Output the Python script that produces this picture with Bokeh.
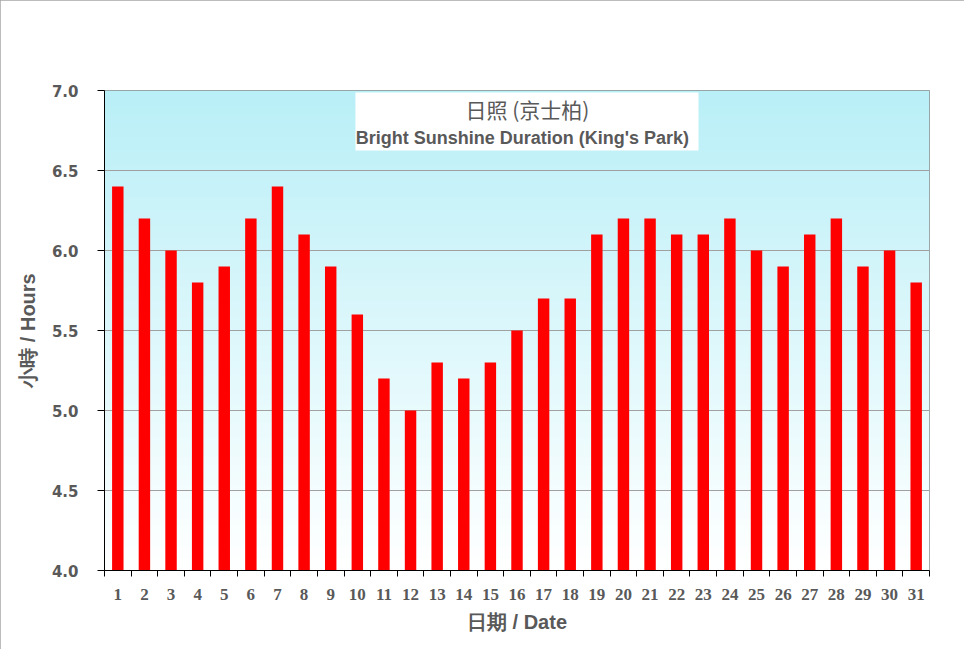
import numpy as np
from bokeh.embed import file_html
from bokeh.models import BoxAnnotation, FixedTicker, Label, NumeralTickFormatter, Range1d
from bokeh.plotting import figure
from bokeh.resources import INLINE

days = list(range(1, 32))
hours = [6.4, 6.2, 6.0, 5.8, 5.9, 6.2, 6.4, 6.1, 5.9, 5.6,
         5.2, 5.0, 5.3, 5.2, 5.3, 5.5, 5.7, 5.7, 6.1, 6.2,
         6.2, 6.1, 6.1, 6.2, 6.0, 5.9, 6.1, 6.2, 5.9, 6.0, 5.8]
y_ticks = [4.0, 4.5, 5.0, 5.5, 6.0, 6.5, 7.0]

title_zh = '日照 (京士柏)'
title_en = "Bright Sunshine  Duration  (King's Park)"
x_title = '日期 / Date'
y_title = '小時 / Hours'

grey = '#595959'

p = figure(
    frame_width=825, frame_height=480,
    min_border_left=104, min_border_right=35,
    min_border_top=90, min_border_bottom=79,
    x_range=Range1d(0.5, 31.5), y_range=Range1d(4.0, 7.0),
    output_backend='svg', toolbar_location=None)

p.outline_line_color = '#8c8c8c'
p.background_fill_color = 'white'
p.border_fill_color = 'white'
p.styles = {'outline': '1px solid #a6a6a6', 'outline-offset': '-1px'}

# vertical gradient, light cyan at the top fading to white
n = 240
t = np.linspace(0, 1, n)
top = np.array([185, 239, 247])
rgba = np.zeros((n, 1, 4), dtype=np.uint8)
for i in range(3):
    rgba[:, 0, i] = np.round(255 + (top[i] - 255) * t).astype(np.uint8)
rgba[:, 0, 3] = 255
img = rgba.view(dtype=np.uint32).reshape((n, 1))
p.image_rgba(image=[img], x=0.5, y=4.0, dw=31, dh=3, level='image')

p.vbar(x=days, top=hours, bottom=4.0, width=0.43,
       fill_color='#ff0000', line_color=None)

p.xgrid.grid_line_color = None
p.ygrid.grid_line_color = '#a0a0a0'
p.ygrid.ticker = FixedTicker(ticks=y_ticks)

# x axis: tick marks between days, labels under each day
p.xaxis.ticker = FixedTicker(ticks=days, minor_ticks=[d - 0.5 for d in days] + [31.5])
p.xaxis.major_tick_line_color = None
p.xaxis.minor_tick_line_color = 'black'
p.xaxis.minor_tick_in = 0
p.xaxis.minor_tick_out = 6
p.xaxis.axis_line_color = 'black'
p.xaxis.major_label_standoff = 12
p.xaxis.major_label_text_font = 'Liberation Serif'
p.xaxis.major_label_text_font_style = 'bold'
p.xaxis.major_label_text_font_size = '17px'
p.xaxis.major_label_text_color = grey
p.xaxis.axis_label = x_title
p.xaxis.axis_label_standoff = 8
p.xaxis.axis_label_text_font = 'Liberation Sans'
p.xaxis.axis_label_text_font_style = 'bold'
p.xaxis.axis_label_text_font_size = '20px'
p.xaxis.axis_label_text_color = grey

p.yaxis.ticker = FixedTicker(ticks=y_ticks)
p.yaxis.formatter = NumeralTickFormatter(format='0.0')
p.yaxis.minor_tick_line_color = None
p.yaxis.major_tick_in = 0
p.yaxis.major_tick_out = 7
p.yaxis.axis_line_color = 'black'
p.yaxis.major_label_standoff = 19
p.yaxis.major_label_text_font = 'DejaVu Sans'
p.yaxis.major_label_text_font_style = 'bold'
p.yaxis.major_label_text_font_size = '15px'
p.yaxis.major_label_text_color = grey
p.yaxis.axis_label = y_title
p.yaxis.axis_label_standoff = 10
p.yaxis.axis_label_text_font = 'Liberation Sans'
p.yaxis.axis_label_text_font_style = 'bold'
p.yaxis.axis_label_text_font_size = '20px'
p.yaxis.axis_label_text_color = grey

# title box inside the plot
box = BoxAnnotation(left=9.93, right=22.82, bottom=6.625, top=6.9875,
                    fill_color='white', fill_alpha=1.0, line_color=None)
p.add_layout(box)
p.add_layout(Label(x=16.39, y=6.8875, text=title_zh, text_align='center',
                   text_baseline='middle', text_font='Noto Sans CJK TC',
                   text_font_size='21px', text_color=grey))
p.add_layout(Label(x=16.39, y=6.706, text=title_en, text_align='center',
                   text_baseline='middle', text_font='Liberation Sans',
                   text_font_style='bold', text_font_size='18px', text_color=grey))

open('out.html', 'w').write(file_html(p, INLINE))
